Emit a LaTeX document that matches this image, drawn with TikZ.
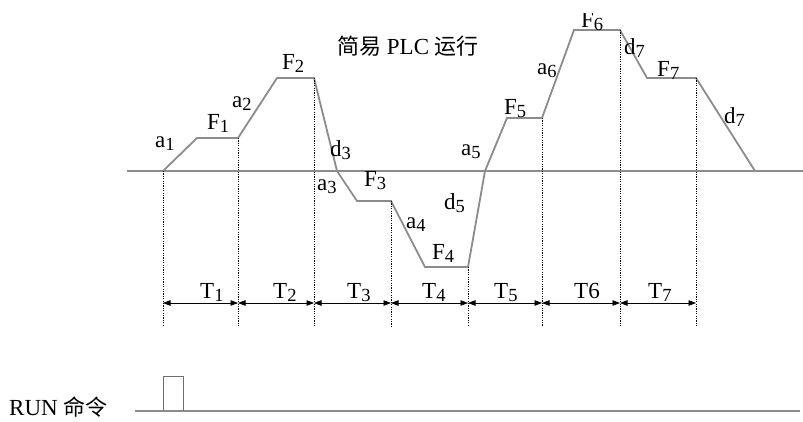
\documentclass[tikz,border=0pt]{standalone}
\usepackage{fontspec}
\setmainfont{Liberation Serif}
\newfontfamily\cjk{Noto Sans CJK SC}
\usetikzlibrary{arrows.meta}
\definecolor{wavegray}{RGB}{140,140,140}
\definecolor{pulsegray}{RGB}{110,110,110}
\newcommand\lsub[1]{\raisebox{-0.3ex}{\fontsize{18.5}{18.5}\selectfont #1}}
\begin{document}
\begin{tikzpicture}[x=1pt,y=-1pt,
  wave/.style={draw=wavegray, line width=1.8pt, line join=miter},
  pulseline/.style={draw=pulsegray, line width=1pt},
  dotl/.style={draw=black, line width=1pt, dash pattern=on 1.2pt off 1.2pt},
  dimarr/.style={{Triangle[length=7.5pt,width=5.5pt]}-{Triangle[length=7.5pt,width=5.5pt]}, line width=0.7pt},
  lab/.style={font=\fontsize{23}{23}\selectfont, inner sep=0pt, anchor=base west}]
\useasboundingbox (0,0) rectangle (803,421);
\fill[white] (0,0) rectangle (803,421);
% baseline
\coordinate (b0) at (127,171);
\coordinate (b1) at (803,171);
\draw[wave] (b0) -- (b1);
% frequency profile
\coordinate (q0) at (163,171);
\coordinate (q1) at (197,138);
\coordinate (q2) at (238,138);
\coordinate (q3) at (277,78);
\coordinate (q4) at (314,78);
\coordinate (q5) at (337,171);
\coordinate (q6) at (357,201);
\coordinate (q7) at (391,201);
\coordinate (q8) at (425,267);
\coordinate (q9) at (468,267);
\coordinate (q10) at (485,171);
\coordinate (q11) at (507,118);
\coordinate (q12) at (542,118);
\coordinate (q13) at (574,30);
\coordinate (q14) at (620,30);
\coordinate (q15) at (647,78);
\coordinate (q16) at (696,78);
\coordinate (q17) at (755,171);
\draw[wave] (q0) -- (q1) -- (q2) -- (q3) -- (q4) -- (q5) -- (q6) -- (q7) -- (q8)
  -- (q9) -- (q10) -- (q11) -- (q12) -- (q13) -- (q14) -- (q15) -- (q16) -- (q17);
% dotted verticals
\coordinate (bot) at (0,326);
\coordinate (arow) at (0,303);
\foreach \p in {q0,q2,q4,q7,q9,q12,q14,q16}
  \draw[dotl] (\p) -- (\p |- bot);
% time arrows
\foreach \a/\b in {q0/q2,q2/q4,q4/q7,q7/q9,q9/q12,q12/q14,q14/q16}
  \draw[dimarr] (\a |- arow) -- (\b |- arow);
% time labels
\node[lab] (t1) at (200,298) {T\lsub{1}};
\node[lab] (t2) at (273,298) {T\lsub{2}};
\node[lab] (t3) at (347,298) {T\lsub{3}};
\node[lab] (t4) at (422,298) {T\lsub{4}};
\node[lab] (t5) at (494,298) {T\lsub{5}};
\node[lab] (t6) at (574,298) {T6};
\node[lab] (t7) at (648,298) {T\lsub{7}};
% curve labels
\node[lab] (la1) at (155,147) {a\lsub{1}};
\node[lab] (lf1) at (207,129) {F\lsub{1}};
\node[lab] (la2) at (232,107) {a\lsub{2}};
\node[lab] (lf2) at (282,69) {F\lsub{2}};
\node[lab] (ld3) at (330,156) {d\lsub{3}};
\node[lab] (la3) at (317,190) {a\lsub{3}};
\node[lab] (lf3) at (364,186) {F\lsub{3}};
\node[lab] (la4) at (406,228) {a\lsub{4}};
\node[lab] (lf4) at (432,259) {F\lsub{4}};
\node[lab] (ld5) at (444,209) {d\lsub{5}};
\node[lab] (la5) at (461,155) {a\lsub{5}};
\node[lab] (lf5) at (504,114) {F\lsub{5}};
\node[lab] (la6) at (537,74) {a\lsub{6}};
\begin{scope}
  \clip (570,13) rectangle (620,40);
  \node[lab] (lf6) at (581,27) {F\lsub{6}};
\end{scope}
\node[lab] (ld7a) at (624,54) {d\lsub{7}};
\node[lab] (lf7) at (657,76) {F\lsub{7}};
\node[lab] (ld7b) at (724,123) {d\lsub{7}};
% title
\node[lab] (title) at (337,54) {{\cjk\fontsize{22}{22}\selectfont 简易} PLC {\cjk\fontsize{22}{22}\selectfont 运行}};
% RUN command
\coordinate (r0) at (135,411);
\coordinate (r1) at (800,411);
\coordinate (p1) at (163,411);
\coordinate (p2) at (163,376);
\coordinate (p3) at (183,376);
\coordinate (p4) at (183,411);
\draw[wave] (r0) -- (r1);
\draw[pulseline] (p1) -- (p2) -- (p3) -- (p4);
\node[lab] (run) at (9,415) {RUN {\cjk\fontsize{22}{22}\selectfont 命令}};
\end{tikzpicture}
\end{document}
